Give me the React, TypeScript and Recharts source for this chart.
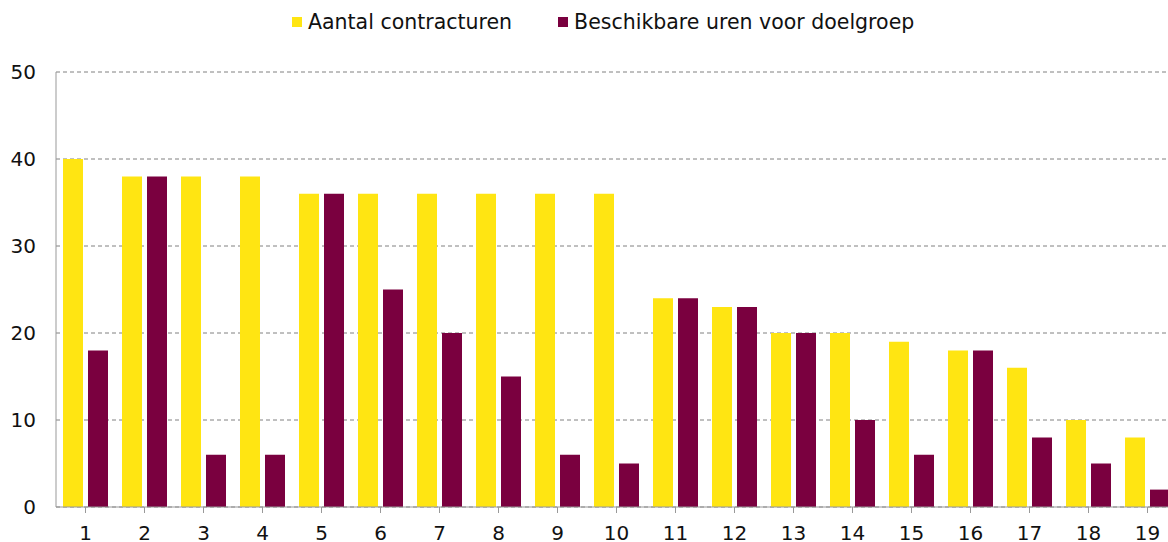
import React from 'react';
import { BarChart, Bar, XAxis, YAxis, CartesianGrid, Legend } from 'recharts';

const categories = ['1', '2', '3', '4', '5', '6', '7', '8', '9', '10', '11', '12', '13', '14', '15', '16', '17', '18', '19'];
const contracturen = [40, 38, 38, 38, 36, 36, 36, 36, 36, 36, 24, 23, 20, 20, 19, 18, 16, 10, 8];
const beschikbareUren = [18, 38, 6, 6, 36, 25, 20, 15, 6, 5, 24, 23, 20, 10, 6, 18, 8, 5, 2];
const yTicks = [0, 10, 20, 30, 40, 50];

const YELLOW = '#FFE512';
const PURPLE = '#7A003F';
const FONT = '"DejaVu Sans", Verdana, sans-serif';

const data = categories.map((name, i) => ({
  name,
  contracturen: contracturen[i],
  uren: beschikbareUren[i],
}));

// legend drawn as plain html so the spacing matches the original
const renderLegend = () => (
  <div style={{ height: 72, position: 'relative', fontFamily: FONT, fontSize: 20.5, color: '#111' }}>
    <div style={{ position: 'absolute', top: 10, left: 292, display: 'flex', alignItems: 'center', lineHeight: '24px' }}>
      <span style={{ width: 10, height: 10, background: YELLOW, display: 'inline-block', marginRight: 6 }} />
      <span>Aantal contracturen</span>
      <span style={{ width: 10, height: 10, background: PURPLE, display: 'inline-block', marginLeft: 46, marginRight: 6 }} />
      <span>Beschikbare uren voor doelgroep</span>
    </div>
  </div>
);

const App = () => {
  return (
    <div style={{ position: 'absolute', left: 0, top: 0, width: 1168, height: 542, overflow: 'hidden', background: '#fff' }}>
      <BarChart
        width={1177}
        height={542}
        data={data}
        margin={{ top: 0, right: 0, left: 0, bottom: 0 }}
        barSize={20}
        barGap={5}
      >
        <Legend verticalAlign="top" align="left" content={renderLegend} wrapperStyle={{ width: 1177 }} />
        <CartesianGrid vertical={false} stroke="#808080" strokeDasharray="4 3" />
        <XAxis
          dataKey="name"
          axisLine={{ stroke: '#999' }}
          tickLine={{ stroke: '#999' }}
          tickSize={6}
          tickMargin={13}
          height={35}
          interval={0}
          tick={{ fill: '#111', fontSize: 20, fontFamily: FONT }}
        />
        <YAxis
          domain={[0, 50]}
          ticks={yTicks}
          width={56}
          axisLine={{ stroke: '#999' }}
          tickLine={false}
          tickSize={0}
          tickMargin={20}
          tick={{ fill: '#111', fontSize: 20, fontFamily: FONT }}
        />
        <Bar dataKey="contracturen" name="Aantal contracturen" fill={YELLOW} isAnimationActive={false} />
        <Bar dataKey="uren" name="Beschikbare uren voor doelgroep" fill={PURPLE} isAnimationActive={false} />
      </BarChart>
    </div>
  );
};

export default App;
